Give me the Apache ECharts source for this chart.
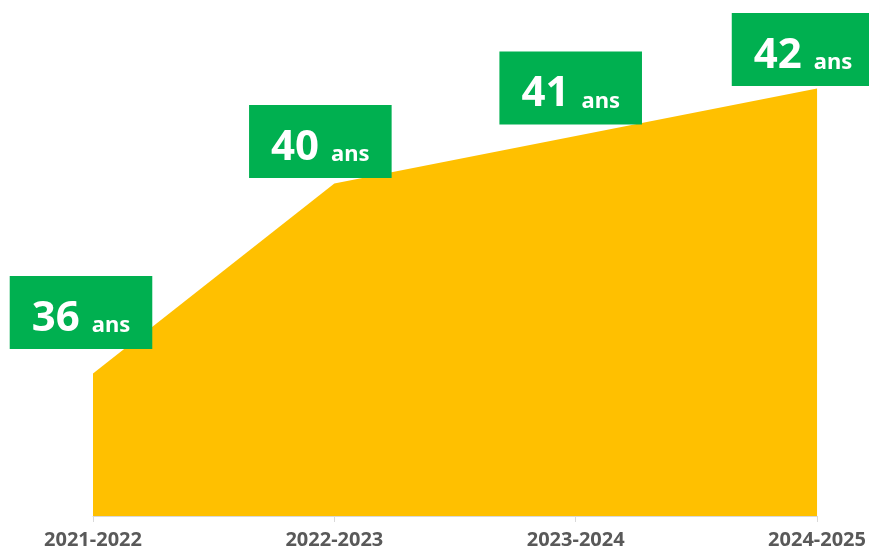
<!DOCTYPE html>
<html>
<head>
<meta charset="utf-8">
<script src="https://cdn.jsdelivr.net/npm/echarts@6/dist/echarts.min.js"></script>
<style>
  html, body { margin: 0; padding: 0; background: #fff; }
  #chart { width: 869px; height: 554px; }
</style>
</head>
<body>
<div id="chart"></div>
<script>
var years = ['2021-2022', '2022-2023', '2023-2024', '2024-2025'];
var ages = [36, 40, 41, 42];
var unit = 'ans';
// label box shifts (Excel placed them by hand)
var labelShift = [[-12, -24], [-14, -5], [-5, -11], [-14, -2]];

var myChart = echarts.init(document.getElementById('chart'));

var seriesData = ages.map(function (v, i) {
  return {
    value: v,
    label: { offset: labelShift[i] }
  };
});

myChart.setOption({
  animation: false,
  grid: {
    left: 93,
    right: 50,
    top: 41,
    bottom: 38
  },
  xAxis: {
    type: 'category',
    data: years,
    boundaryGap: false,
    axisLine: { lineStyle: { color: '#D9D9D9', width: 1 } },
    axisTick: { show: true, length: 6, lineStyle: { color: '#D9D9D9' } },
    axisLabel: {
      color: '#595959',
      fontFamily: 'Noto Sans',
      fontWeight: 'bold',
      fontSize: 20,
      margin: 14,
      showMinLabel: true,
      showMaxLabel: true
    }
  },
  yAxis: {
    type: 'value',
    min: 33,
    max: 43,
    show: false,
    splitLine: { show: false }
  },
  series: [{
    type: 'line',
    data: seriesData,
    symbol: 'circle',
    symbolSize: 1,
    showSymbol: true,
    itemStyle: { color: 'rgba(0,0,0,0)' },
    lineStyle: { width: 0 },
    areaStyle: { color: '#FFC000', opacity: 1, origin: 'start' },
    label: {
      show: true,
      position: 'top',
      distance: 0,
      backgroundColor: '#00B050',
      padding: [21, 22, 8, 22],
      formatter: function (p) { return '{a|' + p.value + '}{b|' + unit + '}'; },
      rich: {
        a: {
          color: '#fff', fontFamily: 'Noto Sans', fontWeight: 'bold',
          fontSize: 42, lineHeight: 44
        },
        b: {
          color: '#fff', fontFamily: 'Noto Sans', fontWeight: 'bold',
          fontSize: 22, lineHeight: 44, verticalAlign: 'bottom', padding: [0, 0, 4, 12]
        }
      }
    }
  }]
});
</script>
</body>
</html>
